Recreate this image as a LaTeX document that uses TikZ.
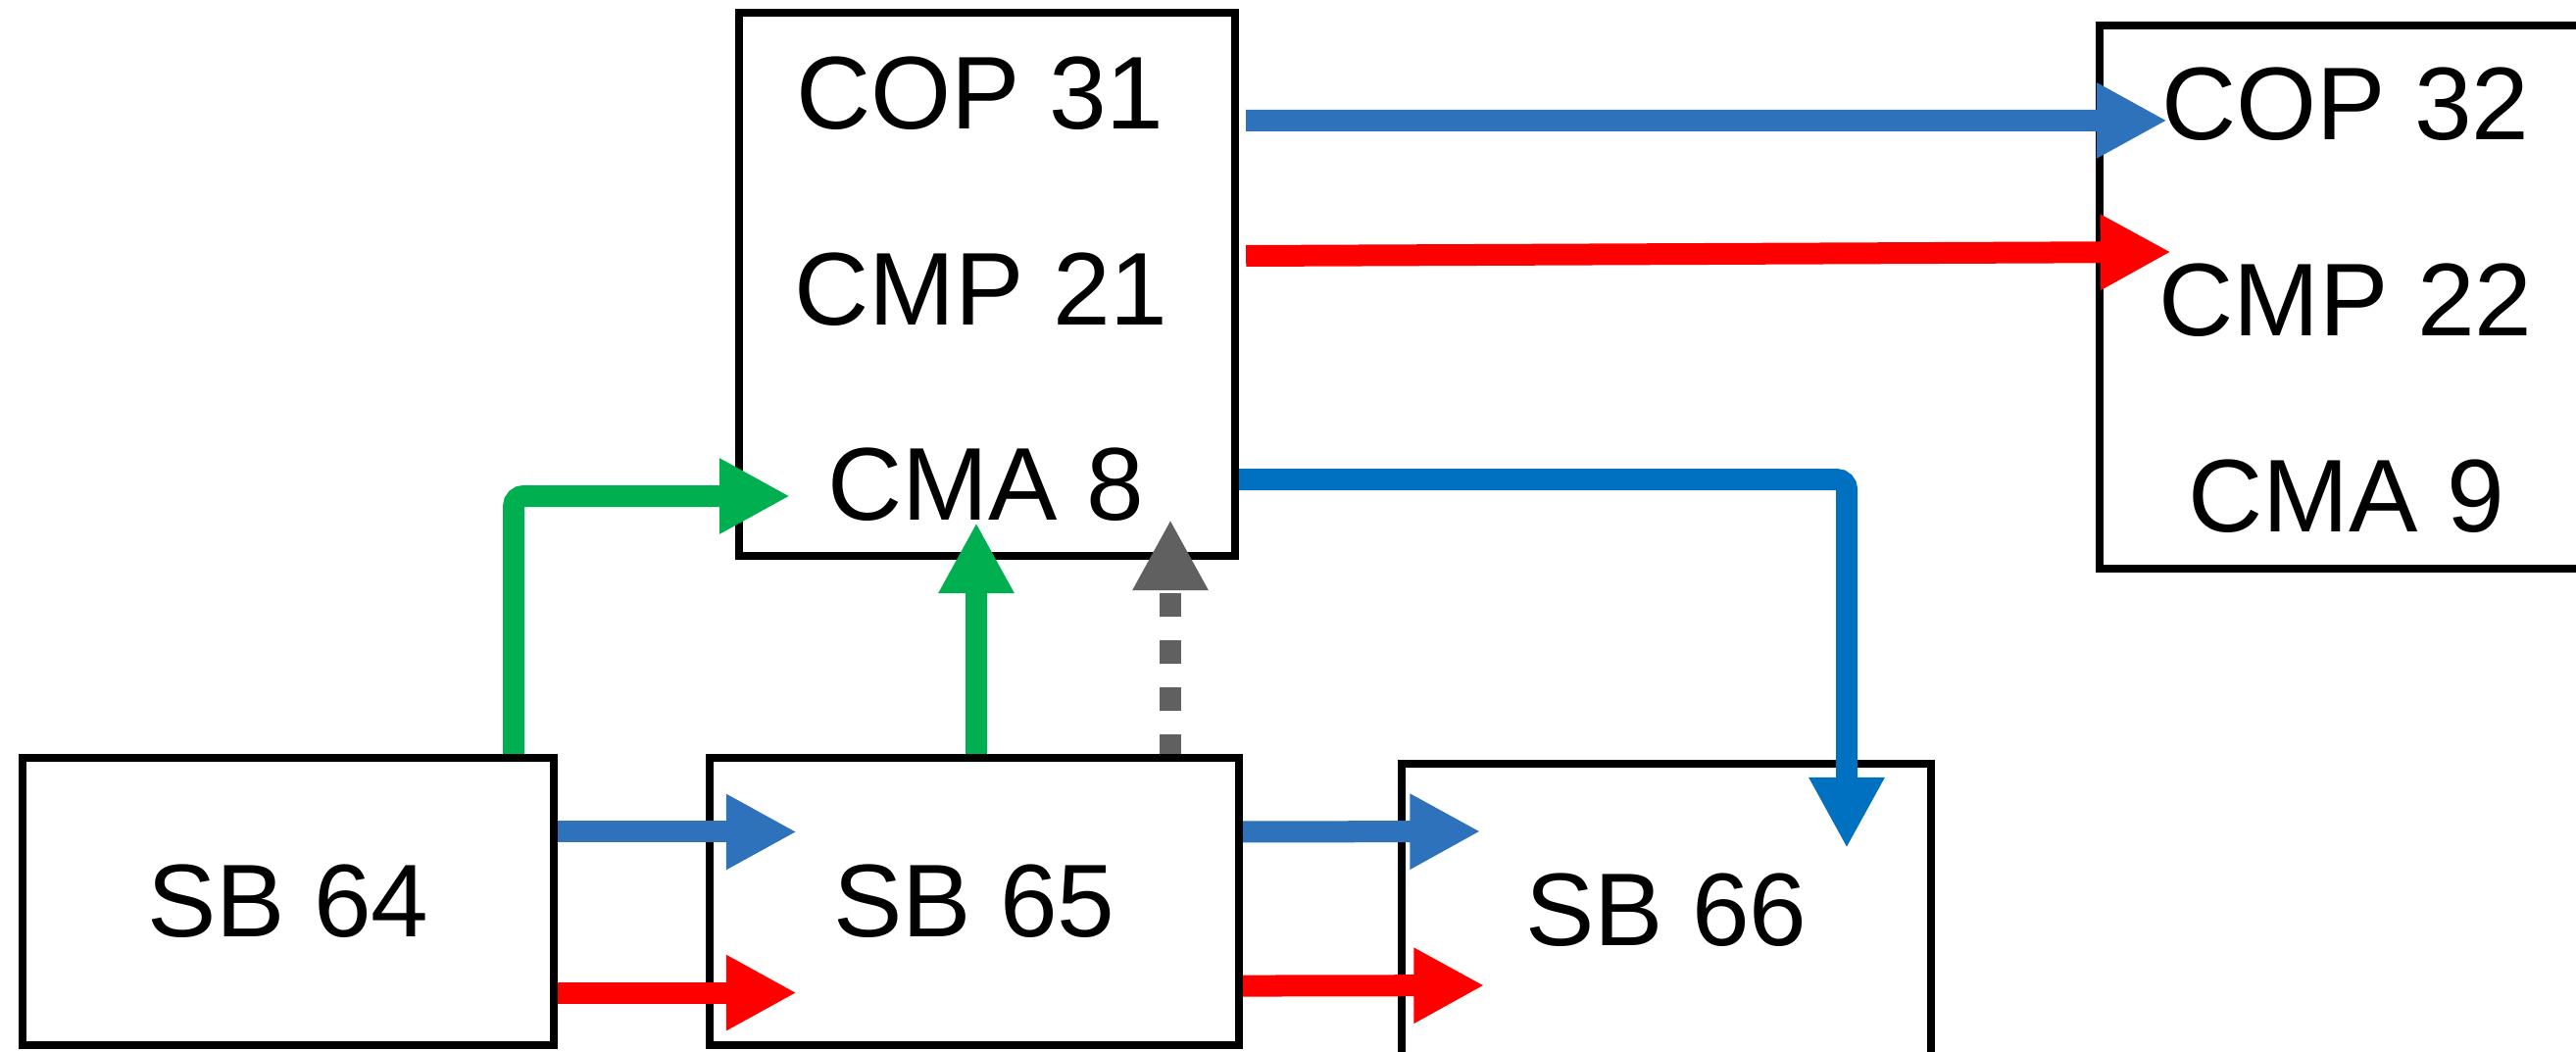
\documentclass[tikz,border=0pt]{standalone}
\usepackage{fontspec}
\setmainfont{Liberation Sans}
\usepackage{tikz}
\usetikzlibrary{arrows.meta}

\begin{document}
\begin{tikzpicture}[x=0.01cm,y=-0.01cm]
% Define flow colours
\definecolor{cop}{RGB}{46,114,187}
\definecolor{cma}{RGB}{0,112,192}
\definecolor{cmp}{RGB}{255,0,0}
\definecolor{sbg}{RGB}{0,176,80}
\definecolor{dep}{RGB}{96,96,96}
\tikzset{
  box/.style={draw,line width=2.3pt,inner sep=0pt,font=\fontsize{30}{36}\selectfont},
  lbl/.style={anchor=base,inner sep=0pt,font=\fontsize{30}{36}\selectfont},
  flow/.style={line width=0.22cm,rounded corners=0.1cm,-{Triangle[length=0.72cm,width=0.72cm]}}
}
\useasboundingbox (0,0) rectangle (2628,1072);
\clip (0,0) rectangle (2628,1072);

% Draw upper blocks
\node[box,minimum width=5.06cm,minimum height=5.54cm] (topbox) at (1007,290) {};
\node[box,minimum width=5.2cm,minimum height=5.54cm] (rbox) at (2402,303) {};
\node[lbl] (cop31) at (1000,131) {COP 31};
\node[lbl] (cmp21) at (1001,331) {CMP 21};
\node[lbl] (cma8) at (1006,530) {CMA 8};
\node[lbl] (cop32) at (2393,142) {COP 32};
\node[lbl] (cmp22) at (2393,342) {CMP 22};
\node[lbl] (cma9) at (2394,542) {CMA 9};

% Draw superblocks
\node[box,minimum width=5.42cm,minimum height=2.93cm] (sb64) at (294,919.5) {SB 64};
\node[box,minimum width=5.40cm,minimum height=2.93cm] (sb65) at (994,919.5) {SB 65};
\node[box,minimum width=5.39cm,minimum height=2.98cm] (sb66) at (1700,928) {SB 66};

% Arrow tips
\coordinate (g8) at (806,506);
\coordinate (s8) at (996,533);
\coordinate (d8) at (1194,530);
\coordinate (t66) at (1884,865);

% Add flows to the right block
\draw[flow,cop] ([xshift=0.07cm,yshift=1.67cm]topbox.east) -- ([xshift=0.73cm,yshift=1.80cm]rbox.west);
\draw[flow,cmp] ([xshift=0.07cm,yshift=0.29cm]topbox.east) -- ([xshift=0.77cm,yshift=0.46cm]rbox.west);
\draw[flow,cma] ([yshift=-1.99cm]topbox.east) -| (t66);

% Add flows into CMA 8
\draw[flow,sbg] ([xshift=-0.45cm]sb64.north east) |- (g8);
\draw[flow,sbg] (sb65.north -| s8) -- (s8);
\draw[flow,dep,dash pattern=on 0.24cm off 0.24cm,dash phase=0.04cm] (sb65.north -| d8) -- (d8);

% Add flows between superblocks
\draw[flow,cop] ([yshift=0.71cm]sb64.east) -- ([xshift=0.93cm,yshift=0.71cm]sb65.west);
\draw[flow,cmp] ([yshift=-0.93cm]sb64.east) -- ([xshift=0.93cm,yshift=-0.93cm]sb65.west);
\draw[flow,cop] ([yshift=0.71cm]sb65.east) -- ([xshift=0.84cm,yshift=0.80cm]sb66.west);
\draw[flow,cmp] ([yshift=-0.86cm]sb65.east) -- ([xshift=0.88cm,yshift=-0.77cm]sb66.west);
\end{tikzpicture}
\end{document}
